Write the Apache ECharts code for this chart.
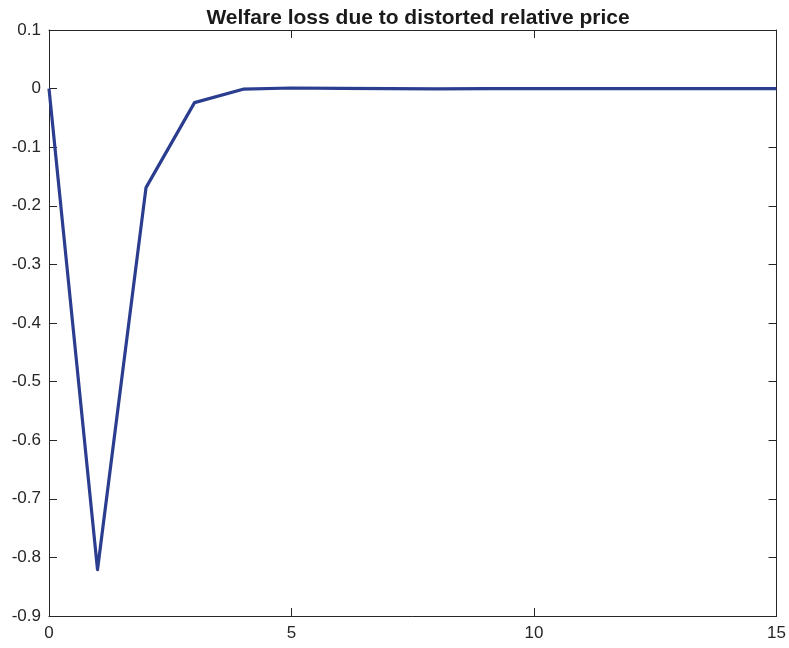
<!DOCTYPE html>
<html>
<head>
<meta charset="utf-8">
<script src="https://cdn.jsdelivr.net/npm/echarts@6/dist/echarts.min.js"></script>
<style>
html, body { margin: 0; padding: 0; background: #fff; }
#main { width: 789px; height: 648px; }
</style>
</head>
<body>
<div id="main"></div>
<script>
// periods after the shock
var periods = [0, 1, 2, 3, 4, 5, 6, 7, 8, 9, 10, 11, 12, 13, 14, 15];
// welfare loss values
var welfareLoss = [0, -0.821, -0.169, -0.024, -0.001, 0.001, 0.0005, 0.0, -0.0003, -0.0002, -0.0001, 0, 0, 0, 0, 0];
var xTicks = [0, 5, 10, 15];
var yMin = -0.9, yMax = 0.1;

var axisCol = '#262626';
var lineData = [];
for (var i = 0; i < periods.length; i++) {
    lineData.push([periods[i], welfareLoss[i]]);
}

var chart = echarts.init(document.getElementById('main'));

var baseX = {
    type: 'value',
    min: 0,
    max: 15,
    interval: 5,
    axisLine: { show: true, onZero: false, lineStyle: { color: axisCol, width: 1 } },
    axisTick: { show: true, inside: true, length: 8, lineStyle: { color: axisCol } },
    splitLine: { show: false }
};
var baseY = {
    type: 'value',
    min: yMin,
    max: yMax,
    interval: 0.1,
    axisLine: { show: true, onZero: false, lineStyle: { color: axisCol, width: 1 } },
    axisTick: { show: true, inside: true, length: 8, lineStyle: { color: axisCol } },
    splitLine: { show: false }
};

var option = {
    animation: false,
    backgroundColor: '#fff',
    title: {
        text: 'Welfare loss due to distorted relative price',
        left: 413,
        textAlign: 'center',
        top: 3,
        textStyle: { fontFamily: 'Liberation Sans', fontWeight: 'bold', fontSize: 21, color: '#1a1a1a' }
    },
    grid: { left: 49, right: 11, top: 30, bottom: 32 },
    xAxis: [
        Object.assign({}, baseX, {
            position: 'bottom',
            axisLabel: {
                color: axisCol, fontFamily: 'Liberation Sans', fontSize: 17, margin: 9,
                formatter: function (v) { return xTicks.indexOf(v) >= 0 ? String(v) : ''; }
            }
        }),
        Object.assign({}, baseX, { position: 'top', axisLabel: { show: false } })
    ],
    yAxis: [
        Object.assign({}, baseY, {
            position: 'left',
            axisLabel: {
                color: axisCol, fontFamily: 'Liberation Sans', fontSize: 17, margin: 8,
                formatter: function (v) {
                    var r = Math.round(v * 10) / 10;
                    return r === 0 ? '0' : String(r);
                }
            }
        }),
        Object.assign({}, baseY, { position: 'right', axisLabel: { show: false } })
    ],
    series: [{
        type: 'line',
        data: lineData,
        xAxisIndex: 0,
        yAxisIndex: 0,
        showSymbol: false,
        lineStyle: { color: '#2b3d8f', width: 3.2, join: 'round' }
    }]
};
chart.setOption(option);
</script>
</body>
</html>
